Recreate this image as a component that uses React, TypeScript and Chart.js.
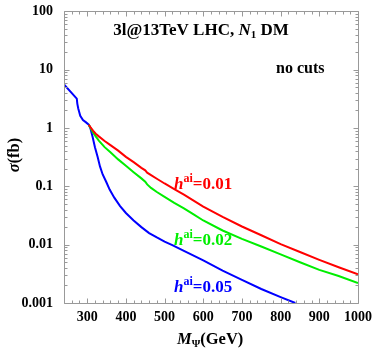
import React, { useEffect, useRef } from 'react';
import { Chart, registerables } from 'chart.js';

Chart.register(...registerables);

// ---- data ----
const massRed = [304, 310, 315, 322, 330, 345, 360, 380, 400, 420, 440, 450, 455, 465, 480, 500, 525, 550, 575, 600, 650, 700, 750, 800, 850, 900, 950, 1000];
const sigmaRed = [1.14, 1.0, 0.9, 0.8, 0.72, 0.6, 0.51, 0.41, 0.32, 0.26, 0.208, 0.188, 0.172, 0.156, 0.135, 0.112, 0.09, 0.072, 0.057, 0.045, 0.03, 0.0205, 0.0145, 0.0102, 0.0075, 0.0055, 0.0041, 0.0031];

const massGreen = [304, 310, 315, 322, 330, 345, 360, 380, 400, 420, 440, 450, 455, 465, 480, 500, 525, 550, 575, 600, 650, 700, 750, 800, 850, 900, 950, 1000];
const sigmaGreen = [1.14, 0.96, 0.84, 0.72, 0.61, 0.47, 0.385, 0.29, 0.225, 0.175, 0.137, 0.12, 0.108, 0.094, 0.08, 0.066, 0.052, 0.042, 0.033, 0.026, 0.0175, 0.0126, 0.0093, 0.0068, 0.005, 0.0037, 0.0029, 0.0022];

const massBlue = [240, 273, 274.5, 277, 282, 289, 297, 304, 308, 314, 320, 327, 333, 340, 349, 358, 370, 385, 400, 420, 440, 460, 480, 500, 520, 550, 600, 650, 700, 750, 800, 838];
const sigmaBlue = [5.6, 3.2, 2.6, 2.15, 1.62, 1.37, 1.25, 1.14, 1.0, 0.7, 0.47, 0.32, 0.22, 0.16, 0.12, 0.088, 0.064, 0.046, 0.035, 0.026, 0.02, 0.0158, 0.0133, 0.0113, 0.0098, 0.0078, 0.0054, 0.0036, 0.0025, 0.00174, 0.00126, 0.001];

const xTickValues = [300, 400, 500, 600, 700, 800, 900, 1000];
const yTickValues = [0.001, 0.01, 0.1, 1, 10, 100];
const curveLabels = ['0.01', '0.02', '0.05'];
const curveColors = ['#ff0000', '#00ee00', '#0000ff'];

const SERIF = '"Liberation Serif", "Times New Roman", serif';

type Seg = { text: string; font: string; dy?: number };

function richWidth(ctx: CanvasRenderingContext2D, segs: Seg[]) {
  let w = 0;
  for (const s of segs) {
    ctx.font = s.font;
    w += ctx.measureText(s.text).width;
  }
  return w;
}

function drawRich(ctx: CanvasRenderingContext2D, segs: Seg[], x: number, y: number, color: string) {
  ctx.fillStyle = color;
  ctx.textBaseline = 'alphabetic';
  ctx.textAlign = 'left';
  let cx = x;
  for (const s of segs) {
    ctx.font = s.font;
    ctx.fillText(s.text, cx, y + (s.dy || 0));
    cx += ctx.measureText(s.text).width;
  }
}

const decorPlugin = {
  id: 'decor',
  afterDraw(chart: any) {
    const ctx: CanvasRenderingContext2D = chart.ctx;
    const { left, right, top, bottom } = chart.chartArea;
    const xs = chart.scales.x;
    const ys = chart.scales.y;
    ctx.save();
    ctx.strokeStyle = '#999999';
    ctx.lineWidth = 1;
    const L = Math.round(left) + 0.5;
    const R = Math.round(right) + 0.5;
    const T = Math.round(top) + 0.5;
    const B = Math.round(bottom) + 0.5;
    ctx.beginPath();
    ctx.moveTo(L, T); ctx.lineTo(R, T); ctx.lineTo(R, B); ctx.lineTo(L, B); ctx.closePath();
    for (let v = 240; v <= 1000; v += 20) {
      const px = Math.round(xs.getPixelForValue(v)) + 0.5;
      const len = v % 100 === 0 ? 5 : 3;
      ctx.moveTo(px, B); ctx.lineTo(px, B - len);
      ctx.moveTo(px, T); ctx.lineTo(px, T + len);
    }
    for (let d = -3; d <= 2; d++) {
      for (let m = 1; m <= 9; m++) {
        if (d === 2 && m > 1) break;
        const v = m * Math.pow(10, d);
        const py = Math.round(ys.getPixelForValue(v)) + 0.5;
        const len = m === 1 ? 5 : 3;
        ctx.moveTo(L, py); ctx.lineTo(L + len, py);
        ctx.moveTo(R, py); ctx.lineTo(R - len, py);
      }
    }
    ctx.stroke();

    const B17 = `bold 17px ${SERIF}`;
    const BI17 = `italic bold 17px ${SERIF}`;
    const B16 = `bold 16px ${SERIF}`;
    const B165 = `bold 16.5px ${SERIF}`;
    const BI165 = `italic bold 16.5px ${SERIF}`;
    const B12 = `bold 12px ${SERIF}`;
    const B11 = `bold 11px ${SERIF}`;

    const title: Seg[] = [
      { text: '3l@13TeV LHC, ', font: B17 },
      { text: 'N', font: BI17 },
      { text: '1', font: B11, dy: 3 },
      { text: ' DM', font: B17 },
    ];
    const tw = richWidth(ctx, title);
    drawRich(ctx, title, 201 - tw / 2, 35, '#000');

    drawRich(ctx, [{ text: 'no cuts', font: B16 }], 276, 73, '#000');

    const labelY = [189, 245, 292];
    curveLabels.forEach((lab, i) => {
      drawRich(ctx, [
        { text: 'h', font: BI17 },
        { text: 'ai', font: B12, dy: -7 },
        { text: '=' + lab, font: B17 },
      ], 174, labelY[i], curveColors[i]);
    });

    drawRich(ctx, [
      { text: 'M', font: BI165 },
      { text: 'Ψ', font: B11, dy: 3 },
      { text: '(GeV)', font: B165 },
    ], 177, 344, '#000');

    ctx.save();
    ctx.translate(19, 155);
    ctx.rotate(-Math.PI / 2);
    const yt: Seg[] = [
      { text: 'σ', font: BI165 },
      { text: '(fb)', font: B165 },
    ];
    const yw = richWidth(ctx, yt);
    drawRich(ctx, yt, -yw / 2, 0, '#000');
    ctx.restore();

    ctx.restore();
  },
};

export default function App() {
  const ref = useRef<HTMLCanvasElement | null>(null);
  useEffect(() => {
    if (!ref.current) return;
    const mk = (xs: number[], ys: number[], color: string) => ({
      data: xs.map((m, i) => ({ x: m, y: ys[i] })),
      borderColor: color,
      backgroundColor: color,
      borderWidth: 2,
      pointRadius: 0,
      fill: false,
      tension: 0,
    });
    const chart = new Chart(ref.current, {
      type: 'line',
      data: {
        datasets: [
          mk(massRed, sigmaRed, curveColors[0]),
          mk(massGreen, sigmaGreen, curveColors[1]),
          mk(massBlue, sigmaBlue, curveColors[2]),
        ],
      },
      options: {
        responsive: false,
        animation: false,
        events: [],
        layout: { padding: { left: 0, top: 10, right: 16, bottom: 0 } },
        plugins: { legend: { display: false }, tooltip: { enabled: false } },
        scales: {
          x: {
            type: 'linear',
            min: 240,
            max: 1000,
            grid: { display: false },
            border: { display: false },
            afterBuildTicks: (s: any) => { s.ticks = xTickValues.map((v) => ({ value: v })); },
            afterFit: (s: any) => { s.height = 51; },
            ticks: {
              color: '#000',
              padding: -2,
              maxRotation: 0,
              font: { family: SERIF, size: 14, weight: 'bold' },
              callback: (v: any) => String(v),
            },
          },
          y: {
            type: 'logarithmic',
            min: 0.001,
            max: 100,
            grid: { display: false },
            border: { display: false },
            afterBuildTicks: (s: any) => { s.ticks = yTickValues.map((v) => ({ value: v })); },
            afterFit: (s: any) => { s.width = 64; },
            ticks: {
              color: '#000',
              padding: 3,
              font: { family: SERIF, size: 14, weight: 'bold' },
              callback: (v: any) => String(Number(v)),
            },
          },
        },
      },
      plugins: [decorPlugin],
    });
    return () => chart.destroy();
  }, []);
  return (
    <div style={{ position: 'absolute', left: 0, top: 0, width: 374, height: 354, background: '#fff' }}>
      <canvas ref={ref} width={374} height={354} style={{ width: 374, height: 354, display: 'block' }} />
    </div>
  );
}
